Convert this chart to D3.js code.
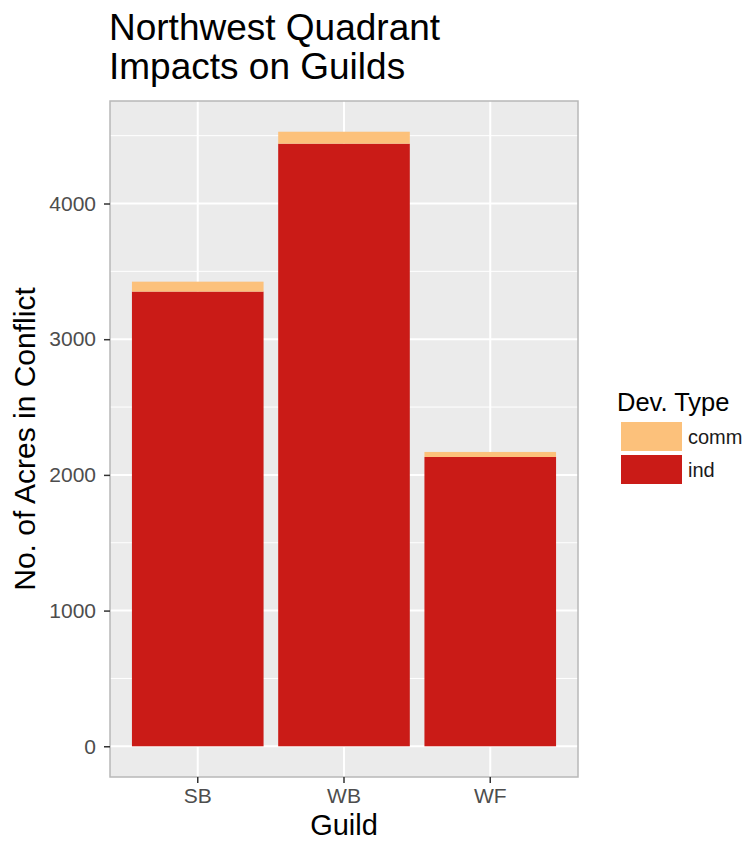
<!DOCTYPE html>
<html lang="en">
<head>
    <meta charset="UTF-8">
    <title>Northwest Quadrant Impacts on Guilds</title>
    <script src="https://d3js.org/d3.v7.min.js"></script>
    <style>
        body { margin: 0; background: #fff; font-family: "Liberation Sans", Arial, Helvetica, sans-serif; }
        .tick-label { font-size: 21px; fill: #4d4d4d; }
        .axis-title { font-size: 30px; fill: #000; }
        .title { font-size: 37px; fill: #000; }
    </style>
</head>
<body>
    <svg id="chart" width="746" height="841"></svg>
    <script>
        const guilds = ["SB", "WB", "WF"];
        const indAcres = [3351, 4441, 2132];
        const commAcres = [73, 88, 37];
        const devTypes = ["comm", "ind"];
        const devColors = ["#fcc17b", "#ca1b17"];
        const yTicks = [0, 1000, 2000, 3000, 4000];

        const panel = {left: 110, right: 578, top: 101, bottom: 777};

        const svg = d3.select("#chart");

        const rows = guilds.map((g, i) => ({guild: g, ind: indAcres[i], comm: commAcres[i]}));
        const stacked = d3.stack().keys(["ind", "comm"])(rows);

        const maxTotal = d3.max(rows, d => d.ind + d.comm);
        const pad = maxTotal * 0.05;

        const x = d3.scaleBand().domain(guilds)
            .range([panel.left, panel.right])
            .paddingInner(0.1).paddingOuter(0.15);
        const y = d3.scaleLinear().domain([-pad, maxTotal + pad])
            .range([panel.bottom, panel.top]);
        const color = d3.scaleOrdinal().domain(devTypes).range(devColors);

        // panel background
        svg.append("rect")
           .attr("x", panel.left).attr("y", panel.top)
           .attr("width", panel.right - panel.left)
           .attr("height", panel.bottom - panel.top)
           .attr("fill", "#ebebeb");

        // minor grid
        const minor = d3.range(500, maxTotal + pad, 1000);
        svg.append("g").selectAll("line").data(minor).enter().append("line")
           .attr("x1", panel.left).attr("x2", panel.right)
           .attr("y1", d => y(d)).attr("y2", d => y(d))
           .attr("stroke", "#fff").attr("stroke-width", 1);

        // major grid
        svg.append("g").selectAll("line").data(yTicks).enter().append("line")
           .attr("x1", panel.left).attr("x2", panel.right)
           .attr("y1", d => y(d)).attr("y2", d => y(d))
           .attr("stroke", "#fff").attr("stroke-width", 2);
        svg.append("g").selectAll("line").data(guilds).enter().append("line")
           .attr("x1", d => x(d) + x.bandwidth() / 2).attr("x2", d => x(d) + x.bandwidth() / 2)
           .attr("y1", panel.top).attr("y2", panel.bottom)
           .attr("stroke", "#fff").attr("stroke-width", 2);

        // bars
        svg.append("g").selectAll("g").data(stacked).enter().append("g")
           .attr("fill", d => color(d.key))
           .selectAll("rect").data(d => d).enter().append("rect")
           .attr("x", d => x(d.data.guild))
           .attr("width", x.bandwidth())
           .attr("y", d => y(d[1]))
           .attr("height", d => y(d[0]) - y(d[1]));

        // panel border
        svg.append("rect")
           .attr("x", panel.left).attr("y", panel.top)
           .attr("width", panel.right - panel.left)
           .attr("height", panel.bottom - panel.top)
           .attr("fill", "none").attr("stroke", "#b8b8b8").attr("stroke-width", 1.5);

        // y axis
        const yAxis = svg.append("g")
           .attr("transform", `translate(${panel.left},0)`)
           .call(d3.axisLeft(y).tickValues(yTicks).tickSize(6).tickPadding(8).tickFormat(d3.format("d")));
        yAxis.select(".domain").remove();
        yAxis.selectAll(".tick line").attr("stroke", "#333").attr("stroke-width", 1.5);
        yAxis.selectAll(".tick text").attr("class", "tick-label").attr("font-family", null).attr("font-size", null);

        // x axis
        const xAxis = svg.append("g")
           .attr("transform", `translate(0,${panel.bottom})`)
           .call(d3.axisBottom(x).tickSize(6).tickPadding(5));
        xAxis.select(".domain").remove();
        xAxis.selectAll(".tick line").attr("stroke", "#333").attr("stroke-width", 1.5);
        xAxis.selectAll(".tick text").attr("class", "tick-label").attr("font-family", null).attr("font-size", null);

        // axis titles
        svg.append("text").attr("class", "axis-title")
           .attr("x", (panel.left + panel.right) / 2).attr("y", 834.5)
           .attr("font-size", 29).style("font-size", "29px")
           .attr("text-anchor", "middle").text("Guild");
        svg.append("text").attr("class", "axis-title")
           .attr("transform", `translate(35,${(panel.top + panel.bottom) / 2}) rotate(-90)`)
           .attr("text-anchor", "middle").text("No. of Acres in Conflict");

        // title
        svg.append("text").attr("class", "title").attr("x", 109).attr("y", 40).text("Northwest Quadrant");
        svg.append("text").attr("class", "title").attr("x", 109).attr("y", 79).text("Impacts on Guilds");

        // legend
        const legend = svg.append("g").attr("transform", "translate(617,0)");
        legend.append("text").attr("x", 0).attr("y", 411)
              .attr("font-size", 25.5).text("Dev. Type");
        devTypes.forEach((t, i) => {
            legend.append("rect")
                  .attr("x", 4).attr("y", 422 + i * 33)
                  .attr("width", 61).attr("height", 29)
                  .attr("fill", color(t));
            legend.append("text")
                  .attr("x", 71).attr("y", 422 + i * 33 + 22)
                  .attr("font-size", 20).attr("fill", "#1a1a1a").text(t);
        });
    </script>
</body>
</html>
